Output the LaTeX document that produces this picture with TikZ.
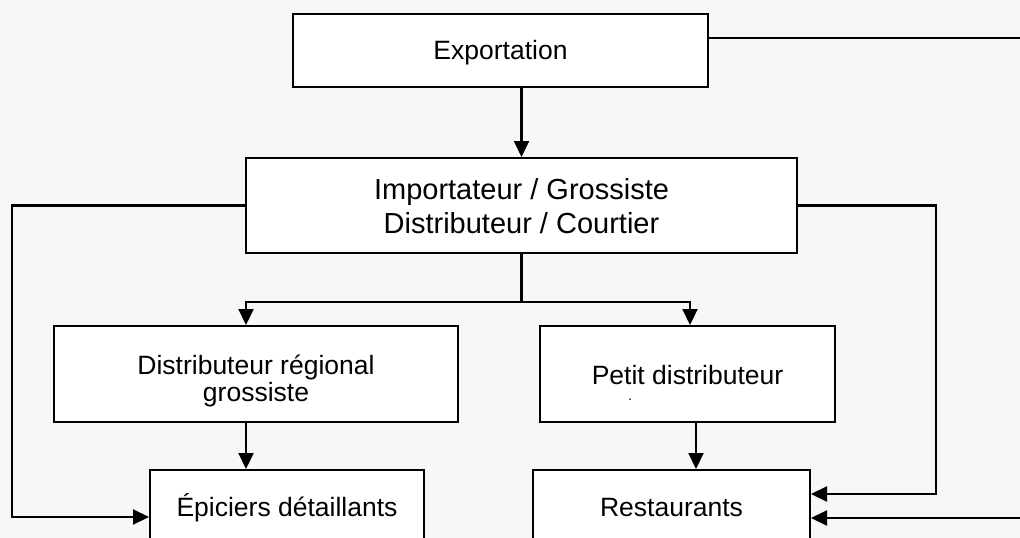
\documentclass[tikz,border=0pt]{standalone}
\usepackage{fontspec}
\setmainfont{Liberation Sans}
\usetikzlibrary{arrows.meta,calc}
\definecolor{bgc}{RGB}{247,247,247}
\begin{document}
\begin{tikzpicture}[x=1pt,y=-1pt,
  box/.style={draw=black,line width=2pt,fill=white,rectangle,inner sep=0pt},
  txt/.style={inner sep=0pt,align=center,font=\fontsize{26.5}{27}\selectfont},
  conn/.style={line width=2.2pt,draw=black},
  arr/.style={conn,-{Triangle[width=15pt,length=16pt]}},
]
\useasboundingbox[fill=bgc] (0,0) rectangle (1020,538);
\clip (0,0) rectangle (1020,538);

\node[box,minimum width=415pt,minimum height=73pt] (exp) at (500.5,50.5) {};
\node[txt] (exptxt) at ($(exp)+(0,2.5)$) {Exportation};
\node[box,minimum width=551pt,minimum height=95pt] (imp) at (521.5,205.5) {};
\node[txt,font=\fontsize{29}{34}\selectfont] (imptxt) at ($(imp)+(0,0.5)$) {Importateur / Grossiste\\Distributeur / Courtier};
\node[box,minimum width=404pt,minimum height=96pt] (reg) at (256,374) {};
\node[txt] (regtxt) at ($(reg)+(0,6.5)$) {Distributeur régional\\grossiste};
\node[box,minimum width=295pt,minimum height=96pt] (petit) at (687.5,374) {};
\node[txt] (petittxt) at ($(petit)+(0,1)$) {Petit distributeur};
\node[inner sep=0pt,font=\fontsize{14}{14}\selectfont] (dot) at (630,400) {.};
\node[box,minimum width=274pt,minimum height=70pt] (epi) at (287,505) {};
\node[txt] (epitxt) at ($(epi)+(0,3)$) {Épiciers détaillants};
\node[box,minimum width=277pt,minimum height=70pt] (rest) at (671.5,505) {};
\node[txt] (resttxt) at ($(rest)+(0,3)$) {Restaurants};

\coordinate (split) at (521.5,302);
\coordinate (L) at (12,0);
\coordinate (R) at (936,0);
\coordinate (FR) at (1030,0);
\coordinate (e1) at ($(exp.east)+(0,-12.5)$);
\coordinate (r2) at ($(rest.east)+(0,13)$);

\draw[arr] (exp.south -| imp.north) -- (imp.north);
\draw[conn] (imp.south) -- (split);
\draw[arr] (split) -| ([xshift=-10pt]reg.north);
\draw[arr] (split) -| ([xshift=2.5pt]petit.north);
\draw[arr] ([xshift=-10pt]reg.south) -- ([xshift=-10pt]reg.south |- epi.north);
\draw[arr] ([xshift=8.5pt]petit.south) -- ([xshift=8.5pt]petit.south |- rest.north);
\draw[arr] (imp.west) -- (imp.west -| L) |- ($(epi.west)+(0,12)$);
\draw[arr] (imp.east) -- (imp.east -| R) |- ($(rest.east)+(0,-11)$);
\draw[arr] (e1) -- (e1 -| FR) -- (r2 -| FR) -- (r2);
\end{tikzpicture}
\end{document}
